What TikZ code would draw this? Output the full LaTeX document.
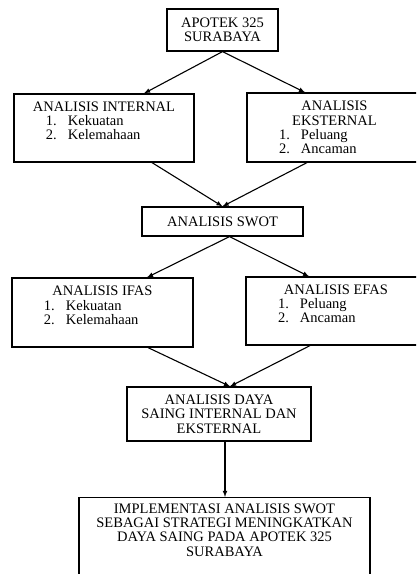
\documentclass[tikz,border=0pt]{standalone}
\usepackage{fontspec}
\setmainfont{Liberation Serif}
\usepackage{tikz}
\usetikzlibrary{arrows}

\newcommand{\nitem}[2]{\hspace*{32pt}\makebox[22pt][l]{#1}#2\par}

\begin{document}
\begin{tikzpicture}[->,>=latex,x=1pt,y=-1pt,line width=1.1pt,
  box/.style={draw,rectangle,line width=1.2pt,inner sep=4pt,align=center,
    font=\fontsize{14.5}{14.3}\selectfont},
  listbox/.style={box,inner xsep=0pt}]
\useasboundingbox (0,0) rectangle (416,574);
\clip (0,0) rectangle (416,574);

\node[box,minimum width=111pt,minimum height=42pt] (apotek) at (222.5,30) {APOTEK 325\\SURABAYA};
\node[listbox,minimum width=180pt,minimum height=68pt] (intern) at (104,128)
  {\parbox{180pt}{\centering ANALISIS INTERNAL\par\raggedright
   \nitem{1.}{Kekuatan}\nitem{2.}{Kelemahaan}\mbox{}}};
\node[listbox,minimum width=175pt,minimum height=69pt] (ekstern) at (334.5,127.5)
  {\parbox{175pt}{\centering ANALISIS\\EKSTERNAL\par\raggedright
   \nitem{1.}{Peluang}\nitem{2.}{Ancaman}}};
\node[box,minimum width=161pt,minimum height=29pt] (swot) at (222.5,221.5) {ANALISIS SWOT};
\node[listbox,minimum width=181pt,minimum height=69pt] (ifas) at (102.5,312.5)
  {\parbox{181pt}{\centering ANALISIS IFAS\par\raggedright
   \nitem{1.}{Kekuatan}\nitem{2.}{Kelemahaan}\mbox{}}};
\node[listbox,minimum width=180pt,minimum height=68pt] (efas) at (336,311)
  {\parbox{180pt}{\centering ANALISIS EFAS\par\raggedright
   \nitem{1.}{Peluang}\nitem{2.}{Ancaman}\mbox{}}};
\node[box,minimum width=184pt,minimum height=54pt] (daya) at (219,414)
  {ANALISIS DAYA\\SAING INTERNAL DAN\\EKSTERNAL};
\node[box,anchor=north,inner ysep=6pt,minimum width=291pt] (impl) at (224.5,497)
  {IMPLEMENTASI ANALISIS SWOT\\SEBAGAI STRATEGI MENINGKATKAN\\DAYA SAING PADA APOTEK 325\\SURABAYA\\ \mbox{}\\ \mbox{}};

% arus analisis
\path (apotek.south) edge ([xshift=40pt]intern.north);
\path (apotek.south) edge ([xshift=-29.5pt]ekstern.north);
\path ([xshift=48pt]intern.south) edge (swot.north);
\path ([xshift=-27.5pt]ekstern.south) edge (swot.north);
\path ([xshift=7pt]swot.south) edge ([xshift=44.5pt]ifas.north);
\path ([xshift=7pt]swot.south) edge ([xshift=-27pt]efas.north);
\path ([xshift=45.5pt]ifas.south) edge ([xshift=11pt]daya.north);
\path ([xshift=-26pt]efas.south) edge ([xshift=11pt]daya.north);
\path ([xshift=6pt]daya.south) edge ([xshift=6pt]daya.south |- impl.north);

\end{tikzpicture}
\end{document}
